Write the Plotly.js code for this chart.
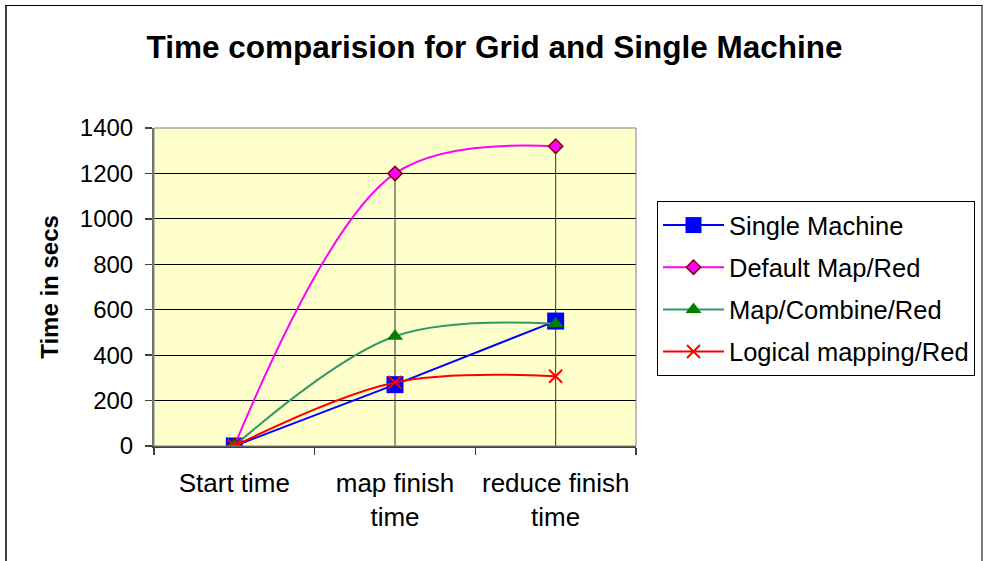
<!DOCTYPE html>
<html>
<head>
<meta charset="utf-8">
<script src="https://cdn.plot.ly/plotly-3.0.1.min.js"></script>
<style>html,body{margin:0;padding:0;background:#fff;}#chart{width:989px;height:561px;}</style>
</head>
<body>
<div id="chart"></div>
<script>
// ---- data ----
var categories = ['Start time', 'map finish time', 'reduce finish time'];
var tickLabels = ['Start time', 'map finish<br>time', 'reduce finish<br>time'];
var seriesNames = ['Single Machine', 'Default Map/Red', 'Map/Combine/Red', 'Logical mapping/Red'];
var singleMachine = [0, 270, 550];
var defaultMapRed = [0, 1200, 1320];
var mapCombineRed = [0, 483, 538];
var logicalMappingRed = [0, 280, 307];
var yTicks = [0, 200, 400, 600, 800, 1000, 1200, 1400];

var FONT = 'Liberation Sans, Arial, sans-serif';
var allSeries = [singleMachine, defaultMapRed, mapCombineRed, logicalMappingRed];

// drop lines from the highest value down to the axis, per category
var dropX = [], dropY = [];
categories.forEach(function (c, i) {
  var m = Math.max.apply(null, allSeries.map(function (s) { return s[i]; }));
  dropX.push(c, c, null);
  dropY.push(0, m, null);
});

var traces = [
  {x: dropX, y: dropY, mode: 'lines', line: {color: '#333333', width: 1},
   showlegend: false, hoverinfo: 'skip'},
  {x: categories, y: singleMachine, name: seriesNames[0], mode: 'lines+markers', legendgroup: 'a',
   line: {color: '#0000FF', width: 2, shape: 'spline'},
   marker: {symbol: 'square', size: 17, color: '#0000FF'}},
  {x: categories, y: defaultMapRed, name: seriesNames[1], mode: 'lines+markers', legendgroup: 'b',
   line: {color: '#FF00FF', width: 2, shape: 'spline'},
   marker: {symbol: 'diamond', size: 11, color: '#FF00FF', line: {color: '#800000', width: 1.5}}},
  {x: categories, y: mapCombineRed, name: seriesNames[2], mode: 'lines+markers', legendgroup: 'c',
   line: {color: '#339966', width: 2, shape: 'spline'},
   marker: {symbol: 'triangle-up', size: 14, color: '#008000'}},
  {x: categories, y: logicalMappingRed, name: seriesNames[3], mode: 'lines+markers', legendgroup: 'd',
   line: {color: '#FF0000', width: 2, shape: 'spline'},
   marker: {symbol: 'x-thin', size: 13, color: '#FF0000', line: {color: '#FF0000', width: 2}}}
];

var L = 154, R = 636, T = 128, B = 446, W = 989, H = 561;
function px(x) { return (x - L) / (R - L); }
function py(y) { return (B - y) / (B - T); }

var layout = {
  width: W, height: H,
  margin: {l: L, r: W - R, t: T, b: H - B, pad: 0},
  paper_bgcolor: '#FFFFFF',
  plot_bgcolor: '#FFFFCC',
  font: {family: FONT, size: 24, color: '#000000'},
  showlegend: true,
  title: {text: 'Time comparision for Grid and Single Machine',
          font: {family: FONT, size: 31.5, color: '#000000', weight: 'bold'},
          x: 0.5, xref: 'container', y: 1 - 46.5 / H, yref: 'container', yanchor: 'middle'},
  xaxis: {type: 'category', categoryorder: 'array', categoryarray: categories,
          range: [-0.5, 2.5], tickmode: 'array', tickvals: categories, ticktext: tickLabels,
          tickson: 'boundaries', ticks: 'outside', ticklen: 7, tickcolor: '#404040', tickwidth: 1.5,
          showline: true, linecolor: '#404040', linewidth: 1.5, showgrid: false, zeroline: false,
          ticklabelstandoff: 13,
          tickfont: {family: FONT, size: 26, color: '#000000'}},
  yaxis: {range: [0, 1400], tickmode: 'array', tickvals: yTicks,
          ticks: 'outside', ticklen: 7, tickcolor: '#404040', tickwidth: 1.5,
          showline: true, linecolor: '#707070', linewidth: 2,
          showgrid: true, gridcolor: '#000000', gridwidth: 1, zeroline: false,
          ticklabelstandoff: 7,
          tickfont: {family: FONT, size: 24, color: '#000000'},
          title: {text: 'Time in secs', standoff: 14,
                  font: {family: FONT, size: 24, color: '#000000', weight: 'bold'}}},
  legend: {x: px(657), y: py(201), xanchor: 'left', yanchor: 'top',
           bgcolor: '#FFFFFF', bordercolor: '#000000', borderwidth: 1,
           font: {family: FONT, size: 25.5, color: '#000000'},
           traceorder: 'grouped', tracegroupgap: 6, itemwidth: 61},
  shapes: [
    {type: 'rect', xref: 'paper', yref: 'paper', x0: 0, x1: 1, y0: 0, y1: 1,
     line: {color: '#808080', width: 1}, layer: 'above'},
    {type: 'line', xref: 'paper', yref: 'paper', x0: px(6), x1: px(6), y0: py(5), y1: py(600),
     line: {color: '#404040', width: 2}},
    {type: 'line', xref: 'paper', yref: 'paper', x0: px(5), x1: px(982), y0: py(5.5), y1: py(5.5),
     line: {color: '#000000', width: 1}},
    {type: 'line', xref: 'paper', yref: 'paper', x0: px(982), x1: px(982), y0: py(5), y1: py(600),
     line: {color: '#000000', width: 1}}
  ]
};

Plotly.newPlot('chart', traces, layout, {displayModeBar: false, staticPlot: true});
</script>
</body>
</html>
